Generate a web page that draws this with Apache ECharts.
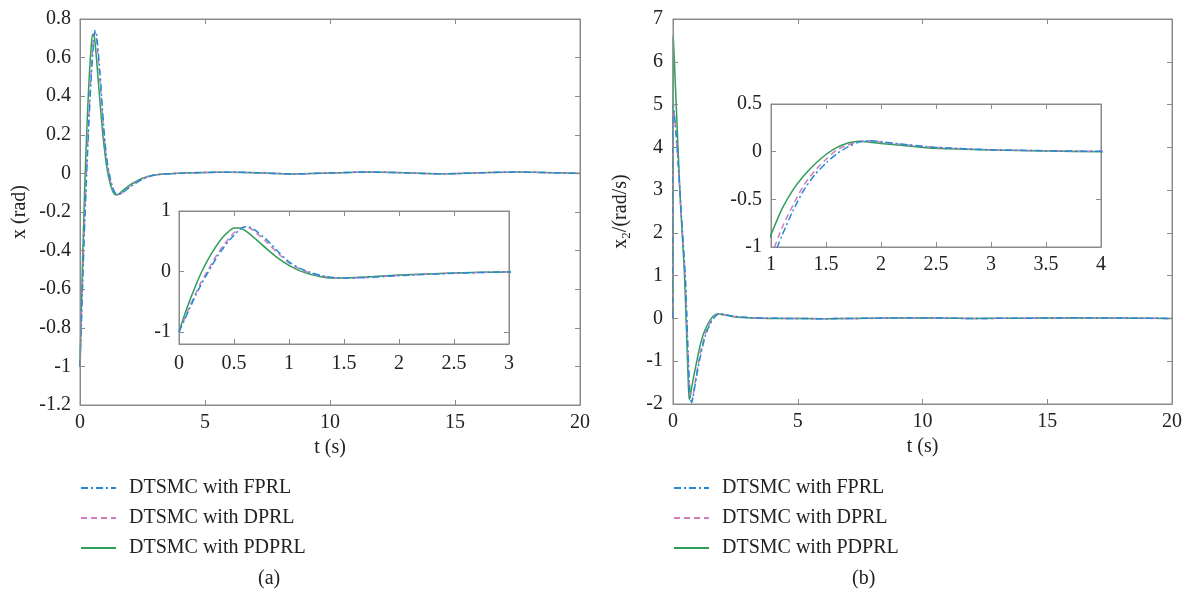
<!DOCTYPE html>
<html>
<head>
<meta charset="utf-8">
<script src="https://cdn.jsdelivr.net/npm/echarts@6/dist/echarts.min.js"></script>
<style>
html,body{margin:0;padding:0;background:#fff;}
#c{width:1191px;height:599px;}
</style>
</head>
<body>
<div id="c"></div>
<script>
// ---------- data ----------
const seriesNames = ['DTSMC with FPRL', 'DTSMC with DPRL', 'DTSMC with PDPRL'];

// (a) angle x (rad)
const t1 = [0,0.05,0.1,0.15,0.2,0.25,0.3,0.35,0.4,0.45,0.5,0.55,0.6,0.65,0.7,0.8,0.9,1.0,1.1,1.2,1.3,1.4,1.5,1.7,2.0,2.5,3,4,5,6,7,8.5,10,11.5,13,14.5,16,17.5,19,20];
const x1FPRL  = [-1,-0.8,-0.6,-0.4,-0.22,-0.06,0.1,0.25,0.38,0.5,0.6,0.69,0.74,0.73,0.67,0.52,0.33,0.16,0.05,-0.02,-0.07,-0.1,-0.11,-0.1,-0.07,-0.03,-0.008,0.001,0.005,0.006,0.004,-0.003,0.002,0.007,0.003,-0.002,0.003,0.007,0.003,0];
const x1DPRL  = [-1,-0.78,-0.57,-0.37,-0.18,-0.02,0.14,0.29,0.42,0.54,0.64,0.71,0.73,0.71,0.64,0.48,0.3,0.14,0.04,-0.03,-0.08,-0.1,-0.11,-0.1,-0.065,-0.028,-0.007,0.001,0.005,0.006,0.004,-0.003,0.002,0.007,0.003,-0.002,0.003,0.007,0.003,0];
const x1PDPRL = [-1,-0.72,-0.47,-0.24,-0.03,0.15,0.31,0.45,0.57,0.66,0.72,0.72,0.68,0.61,0.53,0.37,0.22,0.1,0.01,-0.05,-0.09,-0.11,-0.11,-0.09,-0.06,-0.025,-0.008,0.001,0.005,0.006,0.004,-0.003,0.002,0.007,0.003,-0.002,0.003,0.007,0.003,0];

// (b) velocity x2 (rad/s)
const t2 = [0,0.01,0.1,0.2,0.3,0.4,0.45,0.5,0.55,0.6,0.65,0.7,0.75,0.8,0.9,1.0,1.1,1.2,1.3,1.4,1.5,1.6,1.7,1.8,1.9,2.0,2.25,2.5,3,3.5,4,6,8,9.5,12,14,16,18,20];
const x2FPRL  = [0,5.0,4.5,3.7,2.75,1.85,1.4,0.9,0.1,-0.75,-1.45,-1.85,-1.97,-1.85,-1.5,-1.17,-0.88,-0.62,-0.4,-0.24,-0.12,-0.02,0.05,0.1,0.115,0.105,0.072,0.045,0.02,0.01,0.004,-0.005,0.005,0.015,0.0,0.005,0.015,0.008,0];
const x2DPRL  = [0,5.0,4.45,3.65,2.7,1.8,1.35,0.8,0.0,-0.85,-1.5,-1.88,-1.94,-1.8,-1.45,-1.1,-0.8,-0.56,-0.35,-0.2,-0.08,0.02,0.07,0.105,0.115,0.1,0.07,0.045,0.02,0.01,0.004,-0.005,0.005,0.015,0.0,0.005,0.015,0.008,0];
const x2PDPRL = [0,6.6,5.4,4.0,2.7,1.65,1.15,0.4,-0.45,-1.3,-1.9,-1.8,-1.6,-1.45,-1.15,-0.87,-0.6,-0.4,-0.25,-0.13,-0.03,0.045,0.09,0.11,0.1,0.085,0.06,0.035,0.017,0.007,0.0,-0.005,0.005,0.015,0.0,0.005,0.015,0.008,0];

// tick values
const ticksInsetAY = [-1,0,1];

// ---------- styles ----------
const FONT = 'Liberation Serif';
const AX = '#8a8a8a';
const colors = ['#1f8bd6', '#cf7dbd', '#2e9e58'];
const dashes = [[7,3,2,3], [6,4], 'solid'];

function pairs(t, v){ return t.map((x,i)=>[x, v[i]]); }
function fmt(v){ return String(+(+v).toFixed(2)); }

function axisPair(kind, gi, opt){
  const base = {
    gridIndex: gi, type: 'value', min: opt.min, max: opt.max,
    axisLine: {show: true, onZero: false, lineStyle: {color: AX, width: 1}},
    axisTick: {show: true, inside: true, length: 5, lineStyle: {color: AX}},
    splitLine: {show: false},
    z: opt.z || 3
  };
  if (opt.interval !== undefined) base.interval = opt.interval;
  const a = Object.assign({}, base, {
    position: kind === 'x' ? 'bottom' : 'left',
    axisLabel: {show: true, color: '#222', fontFamily: FONT, fontSize: 20, margin: opt.margin, formatter: fmt},
  });
  if (opt.custom) {
    a.axisLabel.customValues = opt.custom;
    a.axisTick = Object.assign({}, a.axisTick, {customValues: opt.custom});
  }
  if (opt.name) {
    a.name = opt.name; a.nameLocation = 'middle'; a.nameGap = opt.nameGap;
    a.nameTextStyle = Object.assign({color: '#222', fontFamily: FONT, fontSize: 20}, opt.nameStyle || {});
  }
  const b = Object.assign({}, base, {
    position: kind === 'x' ? 'top' : 'right',
    axisLabel: {show: false}
  });
  if (opt.custom) b.axisTick = Object.assign({}, b.axisTick, {customValues: opt.custom});
  return [a, b];
}

const xAxes = [], yAxes = [];
// grid 0: main (a)
xAxes.push(...axisPair('x', 0, {min: 0, max: 20, interval: 5, margin: 8, name: 't (s)', nameGap: 28}));
yAxes.push(...axisPair('y', 0, {min: -1.2, max: 0.8, interval: 0.2, margin: 9, name: 'x (rad)', nameGap: 50}));
// grid 1: inset (a)
xAxes.push(...axisPair('x', 1, {min: 0, max: 3, interval: 0.5, margin: 10, z: 7}));
yAxes.push(...axisPair('y', 1, {min: -1.2, max: 1, custom: ticksInsetAY, margin: 8, z: 7}));
// grid 2: main (b)
xAxes.push(...axisPair('x', 2, {min: 0, max: 20, interval: 5, margin: 8, name: 't (s)', nameGap: 28}));
yAxes.push(...axisPair('y', 2, {min: -2, max: 7, interval: 1, margin: 10, name: '{n|x}{s|2}{n|/(rad/s)}', nameGap: 40,
  nameStyle: {rich: {n: {fontFamily: FONT, fontSize: 20, color: '#222', lineHeight: 24}, s: {fontFamily: FONT, fontSize: 13, color: '#222', lineHeight: 13, verticalAlign: 'bottom'}}}}));
// grid 3: inset (b)
xAxes.push(...axisPair('x', 3, {min: 1, max: 4, interval: 0.5, margin: 8, z: 7}));
yAxes.push(...axisPair('y', 3, {min: -1, max: 0.5, interval: 0.5, margin: 9, z: 7}));

const grids = [
  {left: 80, top: 19, width: 500, height: 386, show: true, borderColor: AX, borderWidth: 1, backgroundColor: '#fff'},
  {left: 179, top: 211, width: 330, height: 133, show: true, borderColor: AX, borderWidth: 1, backgroundColor: '#fff', z: 5},
  {left: 673, top: 19, width: 499, height: 385, show: true, borderColor: AX, borderWidth: 1, backgroundColor: '#fff'},
  {left: 771, top: 104, width: 330, height: 143, show: true, borderColor: AX, borderWidth: 1, backgroundColor: '#fff', z: 5}
];

const x1Sets = [x1FPRL, x1DPRL, x1PDPRL];
const x2Sets = [x2FPRL, x2DPRL, x2PDPRL];
const series = [];
const order = [2, 1, 0];
function addSeries(gi, t, sets, z){
  order.forEach(k => {
    series.push({
      name: seriesNames[k], type: 'line', xAxisIndex: gi*2, yAxisIndex: gi*2,
      data: pairs(t, sets[k]), showSymbol: false, symbol: 'none', smooth: 0.25,
      clip: true, z: z, animation: false,
      lineStyle: {color: colors[k], width: 1.5, type: dashes[k]},
      itemStyle: {color: colors[k]}
    });
  });
}
addSeries(0, t1, x1Sets, 2);
addSeries(1, t1, x1Sets, 8);
addSeries(2, t2, x2Sets, 2);
addSeries(3, t2, x2Sets, 8);

const legendBase = {
  orient: 'vertical', top: 478, itemWidth: 35, itemHeight: 14, itemGap: 10, padding: 0,
  data: seriesNames, selectedMode: false,
  itemStyle: {opacity: 0, borderWidth: 0},
  textStyle: {fontFamily: FONT, fontSize: 20, color: '#222', padding: [0,0,0,8], lineHeight: 20}
};

const option = {
  animation: false,
  backgroundColor: '#fff',
  grid: grids,
  xAxis: xAxes,
  yAxis: yAxes,
  series: series,
  legend: [Object.assign({left: 80}, legendBase), Object.assign({left: 673}, legendBase)],
  graphic: [
    {type: 'text', left: 258, top: 569, style: {text: '(a)', fontFamily: FONT, fontSize: 20, fill: '#222'}},
    {type: 'text', left: 852, top: 569, style: {text: '(b)', fontFamily: FONT, fontSize: 20, fill: '#222'}}
  ]
};

const chart = echarts.init(document.getElementById('c'), null, {renderer: 'canvas'});
chart.setOption(option);
</script>
</body>
</html>
